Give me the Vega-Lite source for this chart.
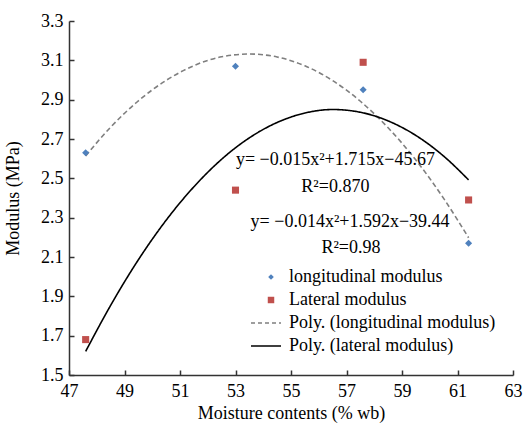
{
  "$schema": "https://vega.github.io/schema/vega-lite/v6.json",
  "width": 444,
  "height": 354,
  "autosize": {"type": "none"},
  "padding": {"left": 69, "top": 21, "right": 12, "bottom": 50},
  "background": "white",
  "config": {
    "view": {"stroke": null},
    "axis": {"labelOverlap": false}
  },
  "datasets": {
    "pts": [
      {"series": "longitudinal modulus", "x": 47.6, "y": 2.63},
      {"series": "longitudinal modulus", "x": 53.0, "y": 3.07},
      {"series": "longitudinal modulus", "x": 57.6, "y": 2.95},
      {"series": "longitudinal modulus", "x": 61.4, "y": 2.17},
      {"series": "Lateral modulus", "x": 47.6, "y": 1.68},
      {"series": "Lateral modulus", "x": 53.0, "y": 2.44},
      {"series": "Lateral modulus", "x": 57.6, "y": 3.09},
      {"series": "Lateral modulus", "x": 61.4, "y": 2.39}
    ],
    "curves": [
      {"series": "Poly. (longitudinal modulus)", "x": 47.6, "y": 2.614},
      {"series": "Poly. (longitudinal modulus)", "x": 48.5, "y": 2.760},
      {"series": "Poly. (longitudinal modulus)", "x": 49.5, "y": 2.894},
      {"series": "Poly. (longitudinal modulus)", "x": 50.5, "y": 2.998},
      {"series": "Poly. (longitudinal modulus)", "x": 51.5, "y": 3.073},
      {"series": "Poly. (longitudinal modulus)", "x": 52.5, "y": 3.118},
      {"series": "Poly. (longitudinal modulus)", "x": 53.5, "y": 3.132},
      {"series": "Poly. (longitudinal modulus)", "x": 54.5, "y": 3.117},
      {"series": "Poly. (longitudinal modulus)", "x": 55.5, "y": 3.072},
      {"series": "Poly. (longitudinal modulus)", "x": 56.5, "y": 2.997},
      {"series": "Poly. (longitudinal modulus)", "x": 57.5, "y": 2.892},
      {"series": "Poly. (longitudinal modulus)", "x": 58.5, "y": 2.757},
      {"series": "Poly. (longitudinal modulus)", "x": 59.5, "y": 2.593},
      {"series": "Poly. (longitudinal modulus)", "x": 60.5, "y": 2.398},
      {"series": "Poly. (longitudinal modulus)", "x": 61.4, "y": 2.198},
      {"series": "Poly. (lateral modulus)", "x": 47.6, "y": 1.620},
      {"series": "Poly. (lateral modulus)", "x": 48.5, "y": 1.854},
      {"series": "Poly. (lateral modulus)", "x": 49.5, "y": 2.086},
      {"series": "Poly. (lateral modulus)", "x": 50.5, "y": 2.287},
      {"series": "Poly. (lateral modulus)", "x": 51.5, "y": 2.457},
      {"series": "Poly. (lateral modulus)", "x": 52.5, "y": 2.597},
      {"series": "Poly. (lateral modulus)", "x": 53.5, "y": 2.706},
      {"series": "Poly. (lateral modulus)", "x": 54.5, "y": 2.784},
      {"series": "Poly. (lateral modulus)", "x": 55.5, "y": 2.832},
      {"series": "Poly. (lateral modulus)", "x": 56.5, "y": 2.850},
      {"series": "Poly. (lateral modulus)", "x": 57.5, "y": 2.836},
      {"series": "Poly. (lateral modulus)", "x": 58.5, "y": 2.792},
      {"series": "Poly. (lateral modulus)", "x": 59.5, "y": 2.718},
      {"series": "Poly. (lateral modulus)", "x": 60.5, "y": 2.613},
      {"series": "Poly. (lateral modulus)", "x": 61.4, "y": 2.492}
    ],
    "notes": [
      {"x": 56.6, "y": 2.593, "label": "y= −0.015x²+1.715x−45.67"},
      {"x": 56.6, "y": 2.456, "label": "R²=0.870"},
      {"x": 57.13, "y": 2.280, "label": "y= −0.014x²+1.592x−39.44"},
      {"x": 57.16, "y": 2.146, "label": "R²=0.98"}
    ]
  },
  "encoding": {
    "x": {
      "field": "x", "type": "quantitative",
      "scale": {"domain": [47, 63], "nice": false, "zero": false},
      "axis": {
        "title": "Moisture contents (% wb)",
        "values": [47, 49, 51, 53, 55, 57, 59, 61, 63],
        "format": "d",
        "grid": false,
        "labelFont": "Liberation Serif",
        "titleFont": "Liberation Serif",
        "labelFontSize": 18,
        "titleFontSize": 18,
        "titleFontWeight": "normal",
        "labelColor": "#000000",
        "titleColor": "#000000",
        "domainColor": "#333333",
        "domainWidth": 1.5,
        "tickColor": "#333333",
        "tickWidth": 1.5,
        "tickSize": -5,
        "labelPadding": 12,
        "labelOverlap": false,
        "labelFlush": false,
        "titlePadding": 4
      }
    },
    "y": {
      "field": "y", "type": "quantitative",
      "scale": {"domain": [1.5, 3.3], "nice": false, "zero": false},
      "axis": {
        "title": "Modulus (MPa)",
        "values": [1.5, 1.7, 1.9, 2.1, 2.3, 2.5, 2.7, 2.9, 3.1, 3.3],
        "format": ".1f",
        "grid": false,
        "labelFont": "Liberation Serif",
        "titleFont": "Liberation Serif",
        "labelFontSize": 18,
        "titleFontSize": 18,
        "titleFontWeight": "normal",
        "labelColor": "#000000",
        "titleColor": "#000000",
        "domainColor": "#333333",
        "domainWidth": 1.5,
        "tickColor": "#333333",
        "tickWidth": 1.5,
        "tickSize": -5,
        "labelPadding": 11,
        "labelOverlap": false,
        "labelFlush": false,
        "labelSeparation": 0,
        "titlePadding": 18
      }
    }
  },
  "layer": [
    {
      "data": {"name": "curves"},
      "mark": {"type": "line", "strokeWidth": 1.6, "interpolate": "monotone"},
      "encoding": {
        "color": {
          "field": "series", "type": "nominal",
          "scale": {
            "domain": ["longitudinal modulus", "Lateral modulus", "Poly. (longitudinal modulus)", "Poly. (lateral modulus)"],
            "range": ["#4f81bd", "#c0504d", "#7f7f7f", "#000000"]
          },
          "legend": {
            "title": null,
            "orient": "none",
            "legendX": 193,
            "legendY": 247,
            "padding": 0,
            "labelFont": "Liberation Serif",
            "labelFontSize": 18,
            "labelColor": "#000000",
            "symbolSize": 400,
            "symbolStrokeWidth": 1.5,
            "labelOffset": 9,
            "rowPadding": 5,
            "labelLimit": 400,
            "encode": {
              "symbols": {
                "update": {
                  "shape": {"signal": "datum.value === 'longitudinal modulus' ? 'diamond' : datum.value === 'Lateral modulus' ? 'square' : 'M-2,0H1'"},
                  "size": {"signal": "datum.value === 'longitudinal modulus' ? 32 : datum.value === 'Lateral modulus' ? 42 : 400"},
                  "fill": {"signal": "datum.value === 'longitudinal modulus' ? '#4f81bd' : datum.value === 'Lateral modulus' ? '#c0504d' : 'transparent'"},
                  "stroke": {"signal": "datum.value === 'longitudinal modulus' ? '#4f81bd' : datum.value === 'Lateral modulus' ? '#c0504d' : datum.value === 'Poly. (longitudinal modulus)' ? '#7f7f7f' : '#000000'"},
                  "strokeWidth": {"signal": "datum.value === 'longitudinal modulus' || datum.value === 'Lateral modulus' ? 0 : 1.5"},
                  "strokeDash": {"signal": "datum.value === 'Poly. (longitudinal modulus)' ? [4, 3] : [1, 0]"},
                  "opacity": {"value": 1}
                }
              }
            }
          }
        },
        "strokeDash": {
          "field": "series", "type": "nominal",
          "scale": {
            "domain": ["Poly. (longitudinal modulus)", "Poly. (lateral modulus)"],
            "range": [[5, 3], [1, 0]]
          },
          "legend": null
        }
      }
    },
    {
      "data": {"name": "pts"},
      "mark": {"type": "point", "filled": true, "opacity": 1, "size": 50},
      "encoding": {
        "color": {"field": "series", "type": "nominal"},
        "shape": {
          "field": "series", "type": "nominal",
          "scale": {"domain": ["longitudinal modulus", "Lateral modulus"], "range": ["diamond", "square"]},
          "legend": null
        }
      }
    },
    {
      "data": {"name": "notes"},
      "mark": {"type": "text", "font": "Liberation Serif", "fontSize": 18, "align": "center", "baseline": "middle", "color": "#000000"},
      "encoding": {
        "text": {"field": "label"}
      }
    }
  ]
}
